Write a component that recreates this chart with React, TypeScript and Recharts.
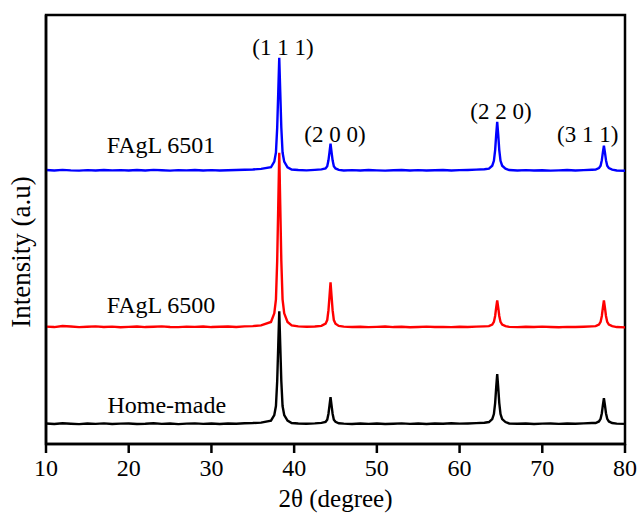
import { LineChart, Line, XAxis, YAxis, ReferenceDot, ReferenceArea } from "recharts";

// 2θ positions (degree), denser around the diffraction peaks
const twoTheta = [
  10, 11, 12, 13, 14, 15, 16, 17, 18, 19, 20, 21, 22, 23, 24, 25, 26, 27, 28, 29, 30, 31, 32, 33, 34, 35, 36,
  37.2, 37.6, 37.8, 37.95, 38.08, 38.2, 38.32, 38.45, 38.6, 38.8, 39.2, 39.7,
  40.5, 41.5, 42.5, 43.3,
  43.8, 44.0, 44.15, 44.28, 44.4, 44.52, 44.65, 44.8, 45.0, 45.4,
  46, 47, 48, 49, 50, 51, 52, 53, 54, 55, 56, 57, 58, 59, 60, 61, 62, 63,
  63.55, 63.95, 64.15, 64.3, 64.43, 64.55, 64.67, 64.8, 64.95, 65.15, 65.55,
  66, 67, 68, 69, 70, 71, 72, 73, 74, 75, 76,
  76.45, 76.85, 77.05, 77.2, 77.33, 77.45, 77.57, 77.7, 77.85, 78.05, 78.45,
  79, 80,
];

// intensities (a.u.), already stacked with an offset per sample
const homeMade = [
  20.6, 20.1, 20.8, 20.3, 19.9, 20.5, 20.2, 20.7, 20.0, 20.4, 20.6, 20.1, 20.3, 20.8, 20.2, 20.5, 19.9, 20.4, 20.7, 20.2, 20.5, 20.1, 20.6, 20.3, 20.8, 21.0, 21.4,
  23.4, 29, 38.1, 62.9, 99.1, 133, 99.1, 62.9, 38.1, 29, 23.4, 21.1,
  20.6, 20.3, 20.7, 21.2,
  22.2, 24.3, 30.3, 38.9, 47, 38.9, 30.3, 24.3, 22.2, 20.8,
  20.4, 20.1, 20.6, 20.2, 20.5, 20.0, 20.3, 20.7, 20.2, 20.5, 20.1, 20.6, 20.3, 20.8, 20.4, 20.6, 20.9, 21.3,
  22, 25, 30, 41, 57, 70, 57, 41, 30, 25, 22,
  20.6, 20.3, 20.5, 20.1, 20.4, 20.6, 20.2, 20.5, 20.3, 20.7, 21.1,
  21, 22.6, 25.2, 30.9, 39.2, 46, 39.2, 30.9, 25.2, 22.6, 21,
  20.4, 20.2,
];

const fagl6500 = [
  117.6, 117.2, 118.3, 117.8, 117.1, 117.5, 117.9, 117.3, 117.6, 117.0, 117.4, 117.8, 117.2, 117.5, 117.9, 117.3, 117.1, 117.6, 117.4, 117.8, 117.2, 117.5, 117.7, 117.3, 117.9, 118.2, 118.9,
  122.3, 131, 145, 183.5, 239.5, 292, 239.5, 183.5, 145, 131, 122.3, 118.8,
  117.9, 117.5, 117.8, 118.4,
  120.6, 124.2, 134.1, 148.5, 162, 148.5, 134.1, 124.2, 120.6, 118.4,
  117.6, 117.2, 117.5, 117.1, 117.4, 117.8, 117.2, 117.5, 117.0, 117.3, 117.6, 117.2, 117.4, 117.1, 117.5, 117.3, 117.6, 117.9,
  118.1, 119.7, 122.4, 128.3, 137, 144, 137, 128.3, 122.4, 119.7, 118.1,
  117.4, 117.1, 117.5, 117.2, 117.6, 117.3, 117.0, 117.4, 117.2, 117.5, 117.9,
  118.1, 119.7, 122.4, 128.3, 137, 144, 137, 128.3, 122.4, 119.7, 118.1,
  117.2, 116.9,
];

const fagl6501 = [
  274.6, 274.2, 274.8, 274.3, 274.0, 274.5, 274.1, 274.7, 274.3, 274.5, 274.1, 274.6, 274.2, 274.8, 274.4, 274.0, 274.5, 274.3, 274.7, 274.2, 274.5, 274.1, 274.4, 274.6, 274.9, 275.2, 275.8,
  277.4, 283, 292.1, 316.9, 353.1, 387, 353.1, 316.9, 292.1, 283, 277.4, 275.1,
  274.6, 274.3, 274.8, 275.3,
  276.2, 278.3, 284.3, 292.9, 301, 292.9, 284.3, 278.3, 276.2, 274.8,
  274.2, 274.5, 274.1, 274.6, 274.3, 274.0, 274.4, 274.7, 274.2, 274.5, 274.1, 274.4, 274.6, 274.2, 274.5, 274.7, 275.0, 275.4,
  276, 278.9, 283.8, 294.6, 310.3, 323, 310.3, 294.6, 283.8, 278.9, 276,
  274.6, 274.2, 274.5, 274.1, 274.4, 274.0, 274.3, 274.6, 274.2, 274.5, 274.9,
  275, 276.5, 279, 284.5, 292.5, 299, 292.5, 284.5, 279, 276.5, 275,
  274.1, 273.9,
];

const xTicks = [10, 20, 30, 40, 50, 60, 70, 80];

const rows = twoTheta.map((x, i) => ({
  x,
  homeMade: homeMade[i],
  fagl6500: fagl6500[i],
  fagl6501: fagl6501[i],
}));

const FONT = '"Liberation Serif", "Times New Roman", serif';
const textStyle = { fill: "#000", fontSize: 23, fontFamily: FONT };

function note(x: number, y: number, value: string, size = 23) {
  return (
    <ReferenceDot
      key={value + x}
      x={x}
      y={y}
      r={0}
      fill="none"
      stroke="none"
      ifOverflow="visible"
      label={{ value, position: "center", ...textStyle, fontSize: size }}
    />
  );
}

// bottom tick label drawn as plain svg text so the serif font sticks
function XTick(props: any) {
  const { x, y, payload } = props;
  return (
    <text x={x} y={y + 21} textAnchor="middle" style={{ fontFamily: FONT, fontSize: 24 }} fill="#000">
      {payload.value}
    </text>
  );
}

export default function App() {
  return (
    <div style={{ position: "absolute", left: 0, top: 0, background: "#fff", fontFamily: FONT }}>
      <LineChart
        width={641}
        height={513}
        data={rows}
        margin={{ top: 15, right: 16, left: 0, bottom: 0 }}
      >
        <XAxis
          dataKey="x"
          type="number"
          domain={[10, 80]}
          ticks={xTicks}
          height={69}
          tickSize={9}
          tickMargin={2}
          stroke="#000"
          strokeWidth={2.5}
          tick={<XTick />}
          label={{ value: "2θ (degree)", position: "insideBottom", offset: 6, ...textStyle, fontSize: 25 }}
        />
        <YAxis
          type="number"
          domain={[0, 430]}
          allowDataOverflow
          width={46}
          tick={false}
          tickLine={false}
          stroke="#000"
          strokeWidth={2.5}
          label={{
            content: () => (
              <text
                x={21}
                y={252}
                transform="rotate(-90 21 252)"
                textAnchor="middle"
                dominantBaseline="central"
                {...textStyle}
                fontSize={27}
              >
                Intensity (a.u)
              </text>
            ),
          }}
        />
        {/* plot frame */}
        <ReferenceArea x1={10} x2={80} y1={0} y2={430} fill="none" stroke="#000" strokeWidth={2.5} ifOverflow="visible" />
        {/* red first so the black peak sits over it; blue on top */}
        <Line dataKey="fagl6500" stroke="#ff0000" strokeWidth={2.4} dot={false} type="linear" isAnimationActive={false} />
        <Line dataKey="homeMade" stroke="#000000" strokeWidth={2.4} dot={false} type="linear" isAnimationActive={false} />
        <Line dataKey="fagl6501" stroke="#0000ff" strokeWidth={2.4} dot={false} type="linear" isAnimationActive={false} />
        {note(38.65, 398, "(1 1 1)")}
        {note(44.94, 311, "(2 0 0)")}
        {note(65.0, 334, "(2 2 0)")}
        {note(75.5, 311, "(3 1 1)")}
        {note(23.9, 300, "FAgL 6501", 24)}
        {note(23.9, 140, "FAgL 6500", 24)}
        {note(24.6, 40, "Home-made", 24)}
      </LineChart>
    </div>
  );
}
